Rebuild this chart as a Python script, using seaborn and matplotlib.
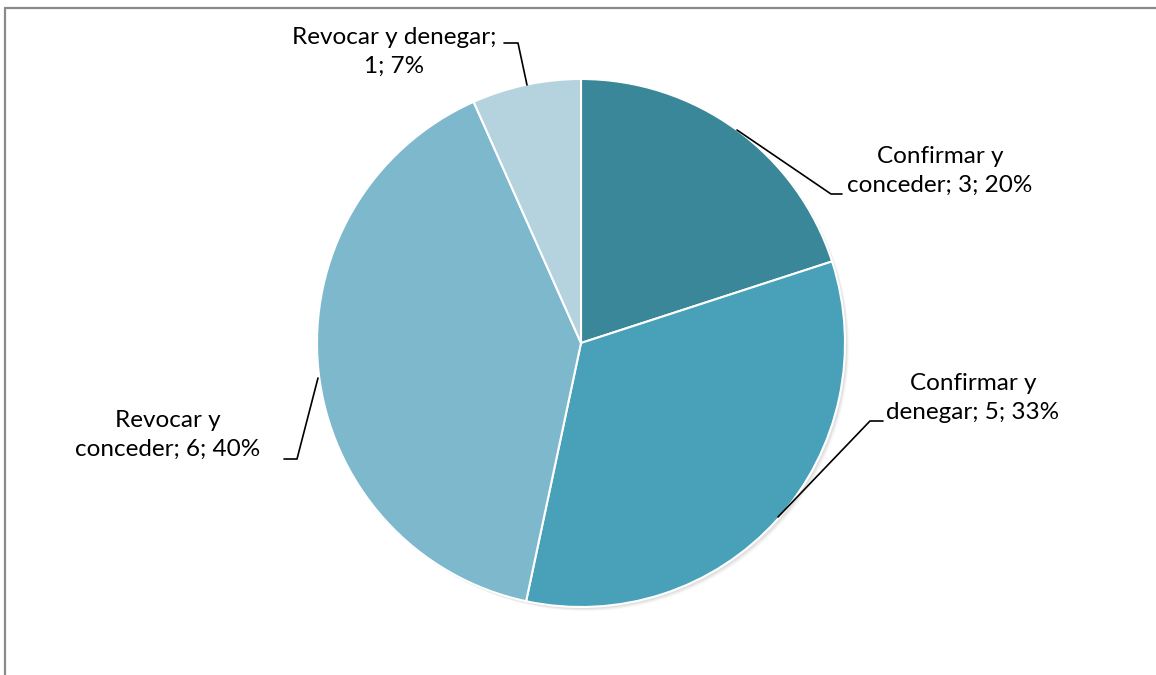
import matplotlib
matplotlib.use("Agg")
import matplotlib.pyplot as plt
from matplotlib.patches import Circle
import seaborn as sns

# Data
categories = ["Confirmar y conceder", "Confirmar y denegar", "Revocar y conceder", "Revocar y denegar"]
counts = [3, 5, 6, 1]
label_texts = ["Confirmar y\nconceder; 3; 20%", "Confirmar y\ndenegar; 5; 33%",
               "Revocar y\nconceder; 6; 40%", "Revocar y denegar;\n1; 7%"]
colors = ["#3A8799", "#48A1B8", "#7DB8CD", "#B5D3DE"]

sns.set_theme(style="white")
plt.rcParams["font.family"] = ["Lato", "DejaVu Sans"]

W, H = 1156, 675
fig = plt.figure(figsize=(W / 100, H / 100), dpi=100)
ax = fig.add_axes([0, 0, 1, 1])

def py(y):
    return H - y

cx, cy, r = 581, 343, 264

# soft shadow behind the pie
for off, a in [(4, 0.06), (3, 0.08), (2, 0.10)]:
    ax.add_patch(Circle((cx + off, py(cy) - off), r, color="#777777", alpha=a, lw=0, zorder=1))

ax.pie(counts, colors=colors, startangle=90, counterclock=False,
       center=(cx, py(cy)), radius=r, frame=True,
       wedgeprops=dict(edgecolor="white", linewidth=1.5, zorder=2))
ax.set_xlim(0, W)
ax.set_ylim(0, H)
ax.set_aspect("equal")
ax.axis("off")

# leader lines (pixel coordinates)
leaders = [
    [(737, 130), (831, 194), (842, 194)],
    [(778, 517), (870, 421), (883, 421)],
    [(318, 378), (297, 459), (284, 459)],
    [(527, 85), (518, 43), (504, 43)],
]
for pts in leaders:
    xs = [p[0] for p in pts]
    ys = [py(p[1]) for p in pts]
    ax.plot(xs, ys, color="black", lw=1.2, zorder=3)

label_pos = [(940, 171), (973, 398), (168, 435), (394, 52)]
for (x, y), t in zip(label_pos, label_texts):
    ax.text(x, py(y), t, ha="center", va="center", fontsize=17.5,
            color="black", linespacing=1.42, zorder=4)

# chart frame (top and left edges visible)
ax.plot([5, W + 5], [py(8), py(8)], color="#8A8A8A", lw=1.6, zorder=5, clip_on=False)
ax.plot([5, 5], [py(8), -5], color="#8A8A8A", lw=1.6, zorder=5, clip_on=False)

fig.savefig("out.png", dpi=100, facecolor="white")
